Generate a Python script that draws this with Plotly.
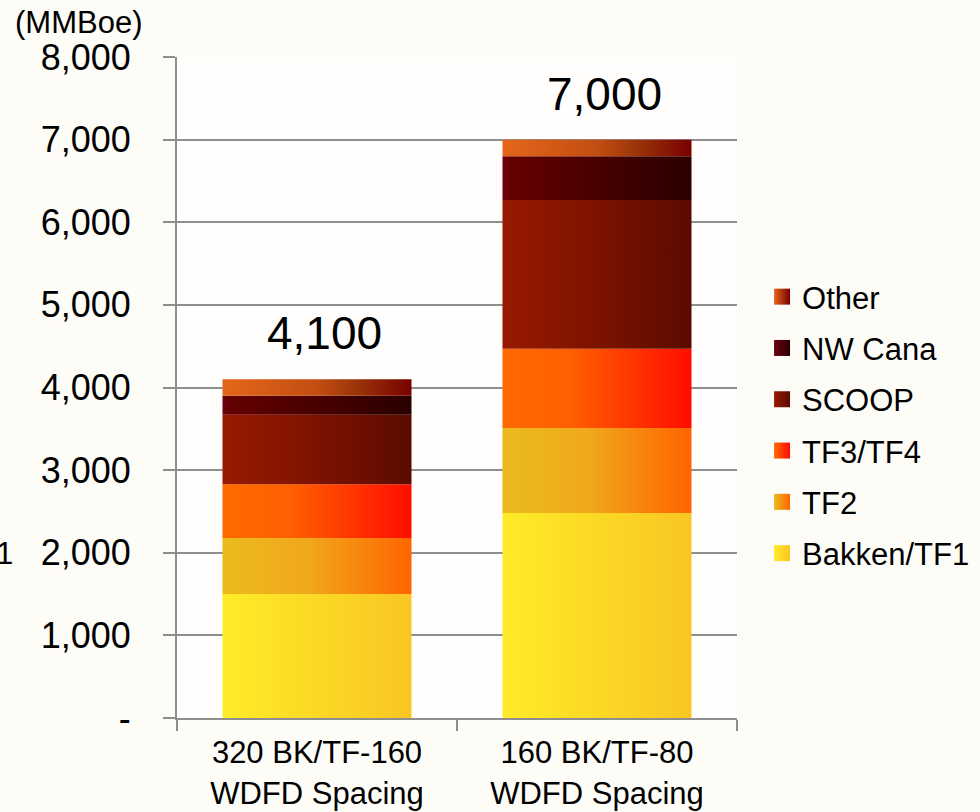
import plotly.graph_objects as go

# Categories (x) and stacked resource volumes, MMBoe
categories = ["320 BK/TF-160<br>WDFD Spacing", "160 BK/TF-80<br>WDFD Spacing"]
series_names = ["Bakken/TF1", "TF2", "TF3/TF4", "SCOOP", "NW Cana", "Other"]
bakken_tf1 = [1500, 2480]
tf2 = [680, 1030]
tf3_tf4 = [650, 960]
scoop = [840, 1800]
nw_cana = [230, 530]
other = [200, 200]
y_tick_vals = [0, 1000, 2000, 3000, 4000, 5000, 6000, 7000, 8000]
y_tick_text = ["-", "1,000", "2,000", "3,000", "4,000", "5,000", "6,000", "7,000", "8,000"]

series_values = [bakken_tf1, tf2, tf3_tf4, scoop, nw_cana, other]

# Horizontal gradient for each segment (left -> right)
gradients = [
    [[0, "#FFEB28"], [1, "#F9C623"]],
    [[0, "#EBBB1E"], [0.45, "#F0A81C"], [1, "#FF6400"]],
    [[0, "#FF6A00"], [0.35, "#FF6000"], [1, "#FF0D00"]],
    [[0, "#981A00"], [0.5, "#7D1200"], [1, "#5A0B00"]],
    [[0, "#6E0014"], [0.04, "#640000"], [1, "#2A0000"]],
    [[0, "#E5661A"], [0.5, "#C24E12"], [0.72, "#9A3308"], [1, "#780000"]],
]

FONT = "Liberation Sans, Arial, sans-serif"
half_width = 0.3375

fig = go.Figure()

# Stacked segments as filled polygons so each can carry a gradient
base = [0] * len(categories)
for name, vals, grad in zip(series_names, series_values, gradients):
    for i, v in enumerate(vals):
        x0, x1 = i - half_width, i + half_width
        y0, y1 = base[i], base[i] + v
        fig.add_trace(go.Scatter(
            x=[x0, x1, x1, x0, x0],
            y=[y0, y0, y1, y1, y0],
            mode="lines",
            line=dict(width=0),
            fill="toself",
            fillcolor=grad[0][1],
            fillgradient=dict(type="horizontal", colorscale=grad),
            showlegend=False,
            hoverinfo="skip",
        ))
        base[i] += v

# Legend entries: small gradient squares, top of stack listed first
for name, grad in reversed(list(zip(series_names, gradients))):
    fig.add_trace(go.Scatter(
        x=[None], y=[None],
        mode="markers",
        name=name,
        legendgroup=name,
        marker=dict(symbol="square", size=16, color=grad[0][1],
                    gradient=dict(type="horizontal", color=grad[-1][1]),
                    line=dict(width=0)),
    ))

# Totals above each bar
for i, total in enumerate(base):
    fig.add_annotation(
        x=i, y=total, xref="x", yref="y",
        text=f"{total:,}", showarrow=False,
        yanchor="middle", yshift=46, xshift=7,
        font=dict(family=FONT, size=46, color="#000000"),
    )

# Unit label
fig.add_annotation(
    x=-0.292, y=1.0, xref="paper", yref="paper",
    text="(MMBoe)", showarrow=False, xanchor="left", yanchor="middle", yshift=35,
    font=dict(family=FONT, size=31, color="#000000"),
)

# Partial legend text at the left edge
fig.add_annotation(
    x=-0.289, y=0.2496, xref="paper", yref="paper",
    text="Bakken/TF1", showarrow=False, xanchor="right", yanchor="middle",
    font=dict(family=FONT, size=31, color="#000000"),
)

grid_col = "#8E8E8E"
fig.update_layout(
    width=980, height=812,
    margin=dict(l=177, r=243, t=57, b=94),
    paper_bgcolor="#FEFCF7",
    plot_bgcolor="rgba(255,255,255,0.7)",
    font=dict(family=FONT, color="#000000"),
    showlegend=True,
    legend=dict(
        xref="container", yref="container",
        x=0.7776, y=1 - 425 / 812, xanchor="left", yanchor="middle",
        traceorder="grouped", tracegroupgap=8,
        font=dict(family=FONT, size=31, color="#000000"),
        bgcolor="rgba(0,0,0,0)", itemsizing="trace",
    ),
    xaxis=dict(
        range=[-0.5, 1.5],
        tickmode="array", tickvals=[0, 1], ticktext=categories,
        ticks="", showgrid=False, zeroline=False,
        showline=True, linecolor=grid_col, linewidth=2,
        tickfont=dict(family=FONT, size=31, color="#000000"),
        ticklabelstandoff=6,
        minor=dict(tickmode="array", tickvals=[-0.5, 0.5, 1.5], ticks="outside",
                   ticklen=11, tickwidth=2, tickcolor=grid_col, showgrid=False),
        automargin=False,
        fixedrange=True,
    ),
    yaxis=dict(
        range=[0, 8000],
        tickmode="array", tickvals=y_tick_vals, ticktext=y_tick_text,
        ticks="outside", ticklen=12, tickwidth=2, tickcolor=grid_col,
        showgrid=True, gridcolor=grid_col, gridwidth=2,
        zeroline=False, showline=True, linecolor=grid_col, linewidth=2,
        tickfont=dict(family=FONT, size=36, color="#000000"),
        ticklabelstandoff=25,
        automargin=False,
        fixedrange=True,
    ),
)

fig.write_html("out.html")
